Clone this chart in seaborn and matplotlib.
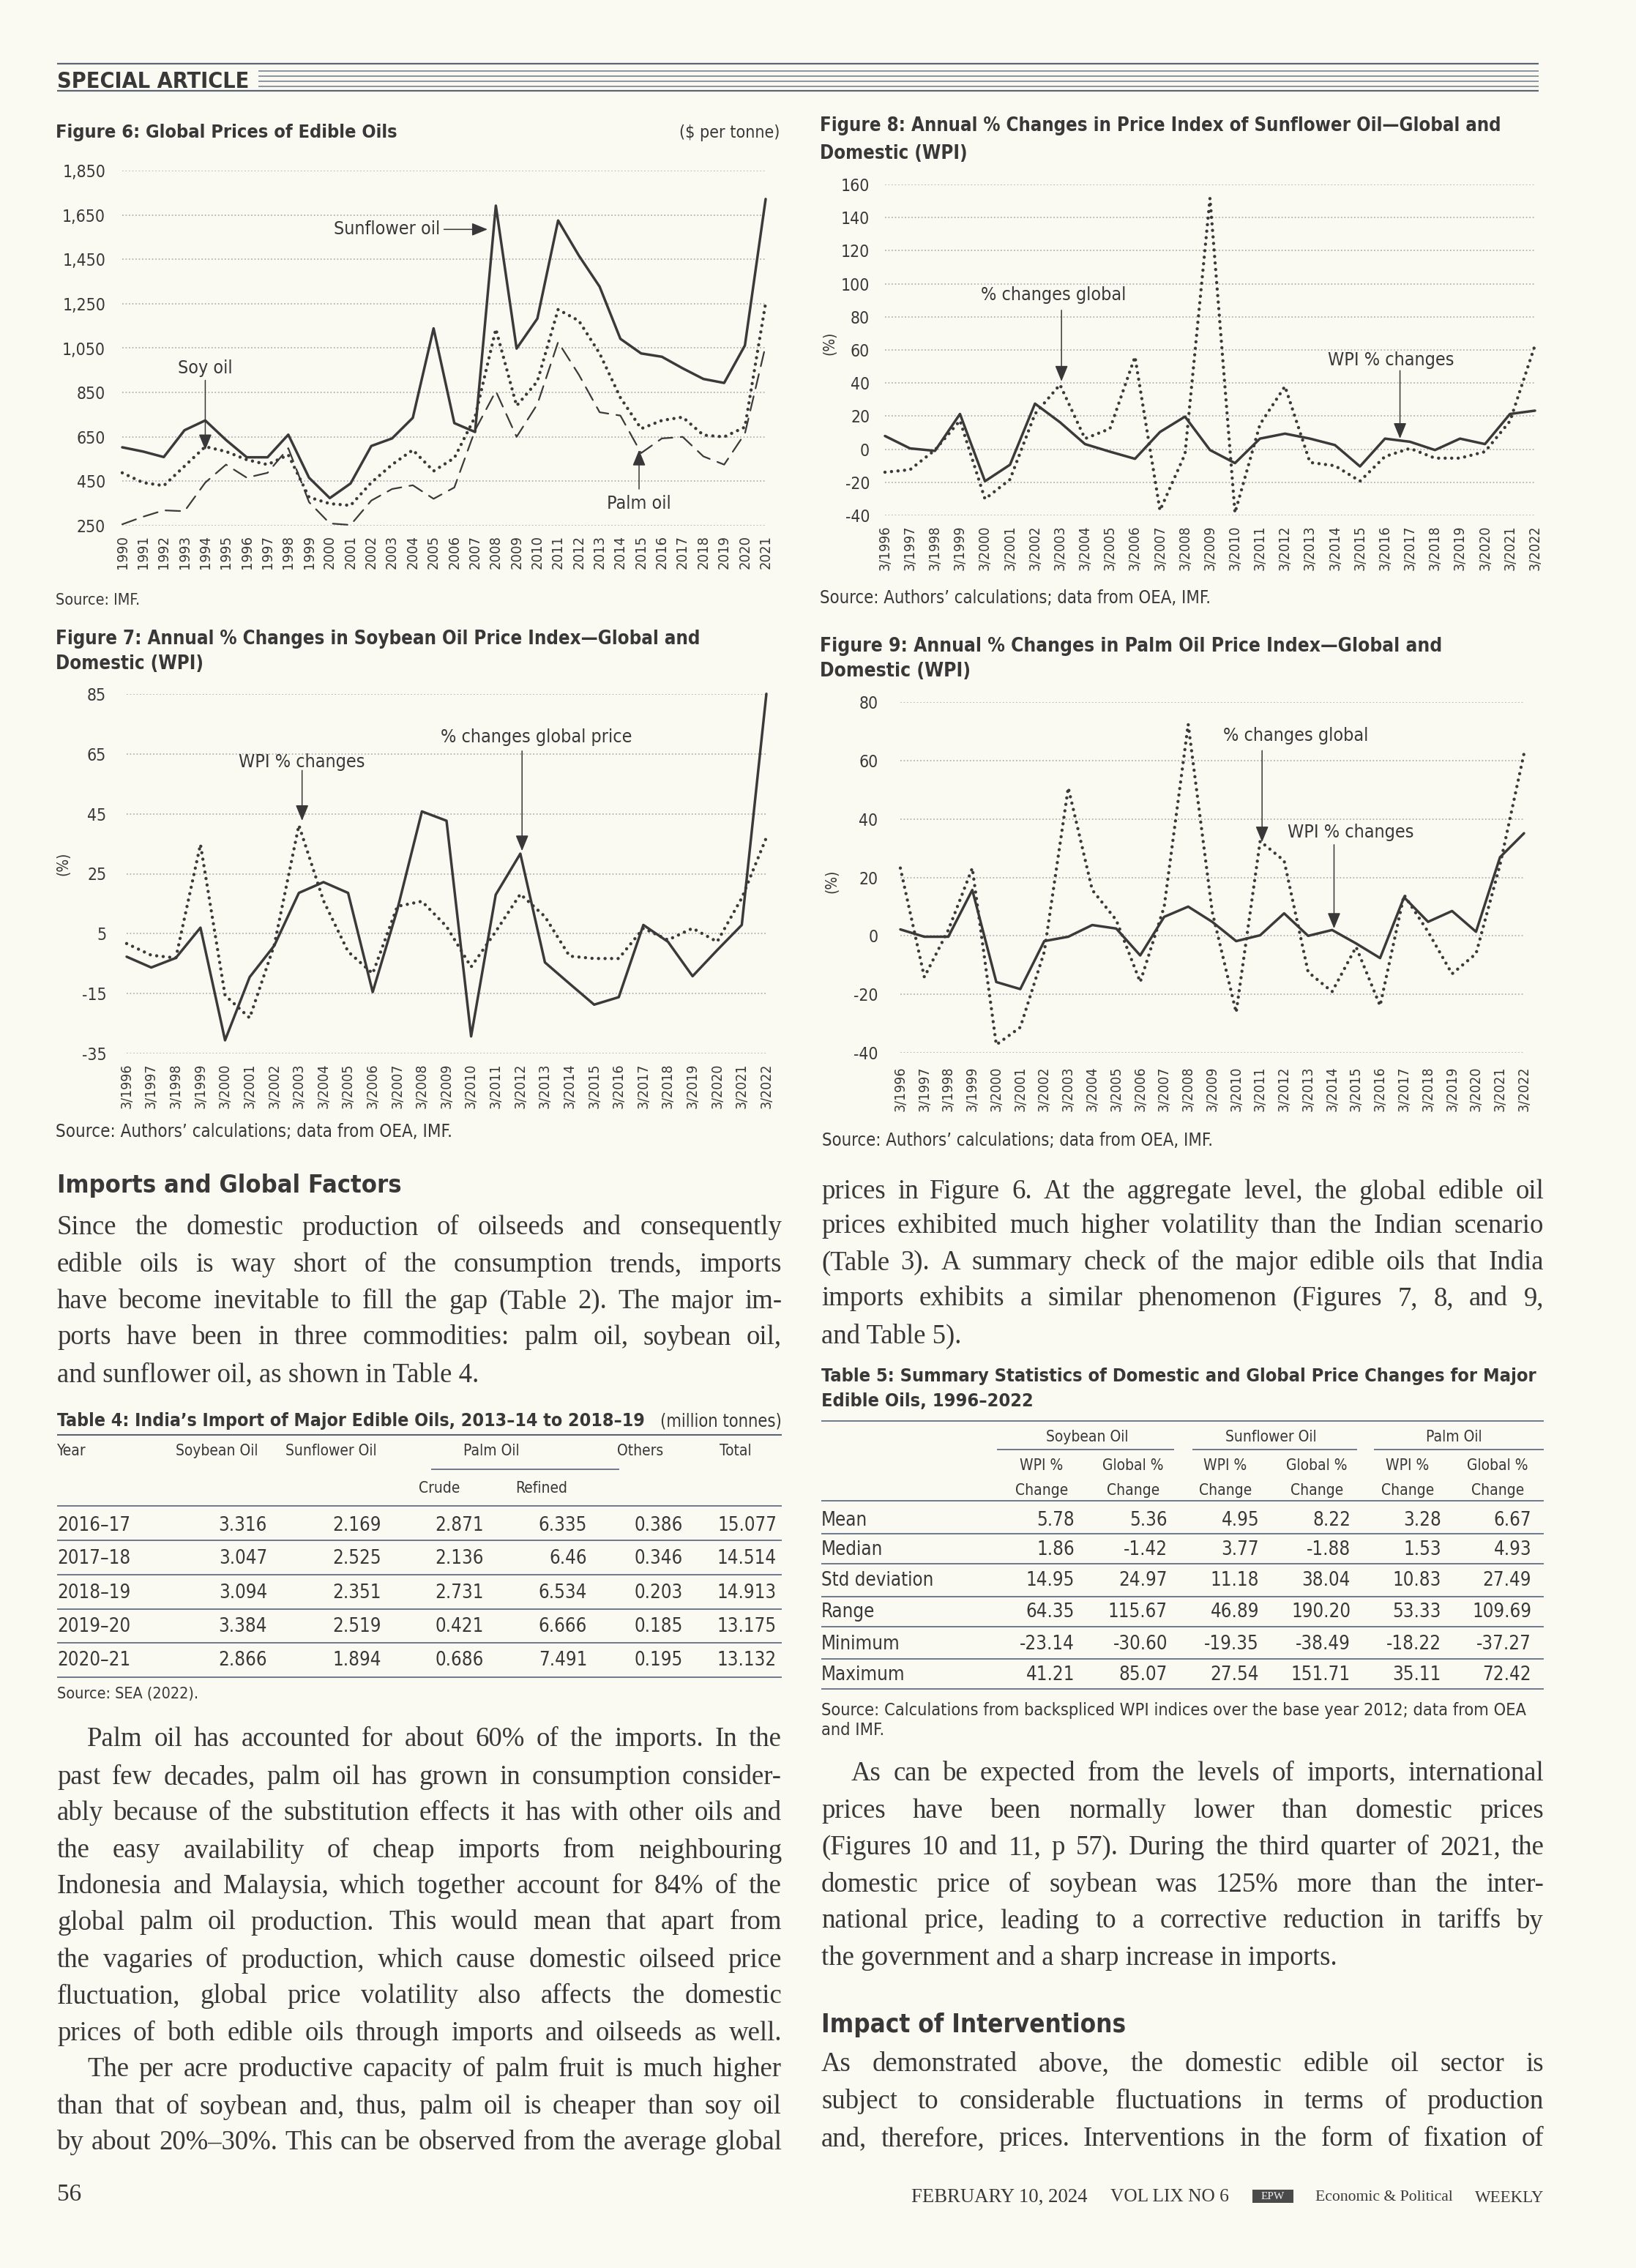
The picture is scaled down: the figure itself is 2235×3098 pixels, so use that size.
import matplotlib
matplotlib.use('Agg')
import matplotlib.pyplot as plt
from matplotlib import font_manager as fm
from matplotlib.patches import Rectangle
import seaborn as sns
import pandas as pd

W, H = 2235, 3098
PAPER = '#fbfaf2'
INK = '#383838'
LINE = '#3a3a3a'
GRID = '#b4b4b4'
RULE = '#56657a'

# ---------------- chart data ----------------
# Figure 6: global prices, $ per tonne
fig6_years = list(range(1990, 2022))
sunflower_price = [603, 584, 559, 680, 724, 636, 558, 558, 660, 466, 374, 440, 609, 643, 736, 1139,
                   712, 672, 1692, 1048, 1183, 1625, 1467, 1327, 1092, 1026, 1011, 959, 911, 893, 1062, 1722]
soy_price = [488, 444, 430, 518, 606, 584, 547, 525, 569, 378, 349, 341, 444, 525, 591, 496,
             555, 740, 1136, 790, 900, 1224, 1173, 1026, 827, 687, 724, 739, 658, 650, 694, 1254]
palm_price = [256, 290, 319, 315, 444, 525, 466, 488, 599, 356, 260, 253, 363, 415, 432, 371,
              422, 680, 856, 650, 797, 1077, 930, 761, 746, 577, 643, 650, 562, 525, 665, 1062]

# Figures 7-9: annual % changes, 3/1996 .. 3/2022
pct_years = list(range(1996, 2023))
pct_labels = ['3/%d' % y for y in pct_years]
soy_global = [-2.7, -6.3, -3.1, 7.0, -30.6, -9.5, 1.0, 18.6, 22.2, 18.6, -14.5, 13.0, 45.8, 42.7,
              -29.3, 18.0, 31.7, -4.6, -11.7, -18.7, -16.2, 7.9, 2.3, -9.2, -0.5, 7.9, 85.07]
soy_wpi = [1.7, -2.2, -3.1, 34.8, -15.6, -23.14, 1.2, 41.21, 16.0, -1.0, -8.3, 14.1, 15.8, 7.4,
           -6.1, 5.7, 18.2, 10.7, -2.5, -3.3, -3.3, 6.8, 2.9, 6.8, 2.3, 16.9, 37.1]
sun_wpi = [8.0, 0.5, -1.0, 21.3, -19.35, -9.4, 27.54, 16.3, 3.1, -1.5, -5.8, 10.4, 19.7, -0.5,
           -8.4, 6.4, 9.4, 6.4, 2.5, -10.4, 6.4, 4.5, -0.5, 6.4, 3.1, 21.3, 23.3]
sun_global = [-13.9, -12.4, -0.5, 17.3, -30.1, -18.3, 21.3, 39.0, 6.4, 12.4, 55.9, -37.0, -3.0, 151.71,
              -38.49, 15.0, 38.0, -8.0, -10.0, -19.3, -4.4, 0.5, -5.4, -5.4, -1.5, 17.0, 62.8]
palm_wpi = [2.2, -0.3, -0.3, 15.7, -15.8, -18.22, -1.8, -0.3, 3.7, 2.5, -6.7, 6.5, 10.0, 4.8,
            -1.8, 0.2, 7.7, 0.0, 2.0, -2.6, -7.6, 13.2, 4.8, 8.5, 1.4, 26.9, 35.11]
palm_global = [23.2, -14.1, 2.0, 23.2, -37.27, -31.3, -5.5, 50.7, 15.7, 5.4, -15.8, 10.0, 72.42, 8.3,
               -26.2, 32.4, 25.7, -12.4, -19.1, -3.8, -23.9, 14.0, 1.4, -13.0, -6.1, 24.3, 62.4]

# ---------------- table data ----------------
t4_years = ['2016–17', '2017–18', '2018–19', '2019–20', '2020–21']
t4_soybean = ['3.316', '3.047', '3.094', '3.384', '2.866']
t4_sunflower = ['2.169', '2.525', '2.351', '2.519', '1.894']
t4_crude = ['2.871', '2.136', '2.731', '0.421', '0.686']
t4_refined = ['6.335', '6.46', '6.534', '6.666', '7.491']
t4_others = ['0.386', '0.346', '0.203', '0.185', '0.195']
t4_total = ['15.077', '14.514', '14.913', '13.175', '13.132']

t5_stats = ['Mean', 'Median', 'Std deviation', 'Range', 'Minimum', 'Maximum']
t5_soy_wpi = ['5.78', '1.86', '14.95', '64.35', '-23.14', '41.21']
t5_soy_glob = ['5.36', '-1.42', '24.97', '115.67', '-30.60', '85.07']
t5_sun_wpi = ['4.95', '3.77', '11.18', '46.89', '-19.35', '27.54']
t5_sun_glob = ['8.22', '-1.88', '38.04', '190.20', '-38.49', '151.71']
t5_palm_wpi = ['3.28', '1.53', '10.83', '53.33', '-18.22', '35.11']
t5_palm_glob = ['6.67', '4.93', '27.49', '109.69', '-37.27', '72.42']

# ---------------- fonts ----------------
ttf = fm.fontManager.ttflist
names = {f.name for f in ttf}
if 'Liberation Sans Narrow' in names:
    SANS, STRETCH = 'Liberation Sans Narrow', 'normal'
elif any(f.name == 'DejaVu Sans' and f.stretch == 'condensed' for f in ttf):
    SANS, STRETCH = 'DejaVu Sans', 'condensed'
else:
    SANS, STRETCH = 'Roboto', 'normal'
SERIF = 'Liberation Serif'
BODY_PT = 26.5

sns.set_theme(style='white', rc={'axes.facecolor': 'none', 'figure.facecolor': PAPER})
plt.rcParams['font.family'] = [SANS, 'DejaVu Sans']
plt.rcParams['font.stretch'] = STRETCH

fig = plt.figure(figsize=(W / 100, H / 100), dpi=100, facecolor=PAPER)
page = fig.add_axes([0, 0, 1, 1])
page.set_xlim(0, W)
page.set_ylim(H, 0)
page.axis('off')
R = fig.canvas.get_renderer()


def txt(x, y, s, size, ha='left', va='center', weight='normal', family=None, color=INK, **kw):
    fam = family or SANS
    st = STRETCH if fam == SANS else 'normal'
    return page.text(x, y, s, fontsize=size, ha=ha, va=va, fontweight=weight,
                     family=[fam, 'DejaVu Sans'], fontstretch=st, color=color, **kw)


def width(t):
    return t.get_window_extent(renderer=R).width


def fit(x0, x1, y, s, size=20, ha='left', **kw):
    t = txt(x0 if ha == 'left' else x1, y, s, size, ha=ha, **kw)
    t.set_fontsize(size * (x1 - x0) / width(t))
    return t


def hline(x0, x1, y, lw=1.2, color=RULE):
    page.plot([x0, x1], [y, y], color=color, lw=lw, solid_capstyle='butt')


def body(x0, x1, lines, ys, indent=41):
    # justified body text: spread the words of each line between x0 and x1
    for (s, just, ind), y in zip(lines, ys):
        xs = x0 + (indent if ind else 0)
        if not just:
            txt(xs, y, s, BODY_PT, family=SERIF)
            continue
        words = s.split()
        ts = [txt(0, y, w, BODY_PT, family=SERIF) for w in words]
        ws = [width(t) for t in ts]
        gap = (x1 - xs - sum(ws)) / (len(words) - 1)
        if gap < 6:
            k = (x1 - xs) / (sum(ws) + 6 * (len(words) - 1))
            for t in ts:
                t.set_fontsize(BODY_PT * k)
            ws = [width(t) for t in ts]
            gap = (x1 - xs - sum(ws)) / (len(words) - 1)
        x = xs
        for t, w in zip(ts, ws):
            t.set_x(x)
            x += w + gap


def chart(x0, x1, ytop, ybot, xlim, ylim):
    ax = fig.add_axes([x0 / W, 1 - ybot / H, (x1 - x0) / W, (ybot - ytop) / H])
    ax.set_xlim(*xlim)
    ax.set_ylim(*ylim)
    ax.set_facecolor('none')
    return ax


def draw_lines(ax, xs, series, dashes, sizes):
    order = list(series.keys())
    df = pd.DataFrame({
        'year': [x for _ in order for x in xs],
        'value': [v for k in order for v in series[k]],
        'series': [k for k in order for _ in xs],
    })
    sns.lineplot(data=df, x='year', y='value', hue='series', style='series', size='series',
                 hue_order=order, style_order=order, size_order=order,
                 palette={k: LINE for k in order}, dashes=dashes, sizes=sizes,
                 estimator=None, errorbar=None, legend=False, ax=ax)
    for ln in ax.lines:
        ln.set_clip_on(False)
        ln.set_dash_capstyle('round')
        ln.set_solid_joinstyle('round')


def style(ax, yticks, ylabels, xticks, xlabels, ypad, xpad, xsize):
    for v in yticks:
        ax.axhline(v, color=GRID, lw=1.3, ls=(0, (1, 1.5)), zorder=0)
    for s in ax.spines.values():
        s.set_visible(False)
    ax.grid(False)
    ax.set_yticks(yticks)
    ax.set_yticklabels(ylabels)
    ax.set_xticks(xticks)
    ax.set_xticklabels(xlabels, rotation=90)
    ax.tick_params(axis='y', length=0, pad=ypad, labelsize=16.5, labelcolor=INK)
    ax.tick_params(axis='x', direction='in', length=5, width=0.8, color='#9a9a9a',
                   pad=xpad, labelsize=xsize, labelcolor=INK)
    ax.set_xlabel('')
    ax.set_ylabel('')


def arrow(ax, tail, head):
    ax.annotate('', xy=head, xytext=tail,
                arrowprops=dict(arrowstyle='-|>,head_length=1.1,head_width=0.45', lw=1.1,
                                color=INK, shrinkA=0, shrinkB=0, mutation_scale=12))


def note(ax, x, y, s, ha='center'):
    ax.text(x, y, s, fontsize=18, ha=ha, va='center', color=INK)


SOLID_LW, DOT_LW, DOTS = 2.5, 3.2, (0.01, 2.0)

# ---------------- masthead ----------------
hline(78, 2102, 87, lw=1.6, color='#5a6578')
hline(78, 2102, 124, lw=1.6, color='#5a6578')
for yy in (97, 104, 111, 118):
    hline(353, 2102, yy, lw=1.1, color='#6d7889')
fit(78, 340, 111, 'SPECIAL ARTICLE', size=20, weight='bold')

# ---------------- Figure 6 ----------------
fit(76, 543, 181, 'Figure 6: Global Prices of Edible Oils', size=20, weight='bold')
fit(927, 1065, 181, '($ per tonne)', size=16, ha='right')
ax6 = chart(167, 1046, 233, 718, (1990, 2021), (250, 1850))
draw_lines(ax6, fig6_years,
           {'Sunflower oil': sunflower_price, 'Soy oil': soy_price, 'Palm oil': palm_price},
           {'Sunflower oil': '', 'Soy oil': DOTS, 'Palm oil': (9, 5)},
           {'Sunflower oil': SOLID_LW, 'Soy oil': DOT_LW, 'Palm oil': 1.6})
y6 = list(range(250, 1851, 200))
style(ax6, y6, ['{:,}'.format(v) for v in y6], fig6_years, [str(y) for y in fig6_years],
      16.5, 9.5, 14.5)
note(ax6, 2005.3, 1585, 'Sunflower oil', ha='right')
arrow(ax6, (2005.5, 1585), (2007.6, 1585))
note(ax6, 1994.0, 959, 'Soy oil')
arrow(ax6, (1994.0, 905), (1994.0, 591))
note(ax6, 2014.9, 349, 'Palm oil')
arrow(ax6, (2014.9, 415), (2014.9, 591))
txt(76, 820, 'Source: IMF.', 15.5)

# ---------------- Figure 8 ----------------
t8 = fit(1120, 2053, 172, 'Figure 8: Annual % Changes in Price Index of Sunflower Oil—Global and',
         size=20, weight='bold')
txt(1120, 210, 'Domestic (WPI)', t8.get_fontsize(), weight='bold')
ax8 = chart(1209, 2097, 252, 704, (1996, 2022), (-40, 160))
draw_lines(ax8, pct_years, {'WPI': sun_wpi, 'Global': sun_global},
           {'WPI': '', 'Global': DOTS}, {'WPI': SOLID_LW, 'Global': DOT_LW})
y8 = list(range(-40, 161, 20))
style(ax8, y8, [str(v) for v in y8], pct_years, pct_labels, 15, 9.5, 14)
note(ax8, 2002.75, 93.4, '% changes global')
arrow(ax8, (2003.06, 84), (2003.06, 41))
note(ax8, 2016.24, 53.9, 'WPI % changes')
arrow(ax8, (2016.6, 47.5), (2016.6, 6.4))
txt(1133, 469, '(%)', 15, ha='center', rotation=90)
fit(1120, 1655, 817, 'Source: Authors’ calculations; data from OEA, IMF.', size=15.5)

# ---------------- Figure 7 ----------------
t7 = fit(76, 958, 873, 'Figure 7: Annual % Changes in Soybean Oil Price Index—Global and',
         size=20, weight='bold')
txt(76, 907, 'Domestic (WPI)', t7.get_fontsize(), weight='bold')
ax7 = chart(173, 1047, 948, 1439, (1996, 2022), (-35, 85))
draw_lines(ax7, pct_years, {'Global': soy_global, 'WPI': soy_wpi},
           {'Global': '', 'WPI': DOTS}, {'Global': SOLID_LW, 'WPI': DOT_LW})
y7 = list(range(-35, 86, 20))
style(ax7, y7, [str(v) for v in y7], pct_years, pct_labels, 20, 9.5, 14)
note(ax7, 2003.13, 62.3, 'WPI % changes')
arrow(ax7, (2003.13, 59.5), (2003.13, 42.7))
note(ax7, 2012.64, 70.7, '% changes global price')
arrow(ax7, (2012.07, 66), (2012.07, 32.6))
txt(86, 1180, '(%)', 15, ha='center', rotation=90)
fit(76, 618, 1546, 'Source: Authors’ calculations; data from OEA, IMF.', size=15.5)

# ---------------- Figure 9 ----------------
t9 = fit(1120, 1969, 883, 'Figure 9: Annual % Changes in Palm Oil Price Index—Global and',
         size=20, weight='bold')
txt(1120, 917, 'Domestic (WPI)', t9.get_fontsize(), weight='bold')
ax9 = chart(1230, 2082, 959, 1438, (1996, 2022), (-40, 80))
draw_lines(ax9, pct_years, {'WPI': palm_wpi, 'Global': palm_global},
           {'WPI': '', 'Global': DOTS}, {'WPI': SOLID_LW, 'Global': DOT_LW})
y9 = list(range(-40, 81, 20))
style(ax9, y9, [str(v) for v in y9], pct_years, pct_labels, 22, 13.5, 14)
note(ax9, 2012.49, 68.5, '% changes global')
arrow(ax9, (2011.08, 63.4), (2011.08, 32.1))
note(ax9, 2014.77, 35.5, 'WPI % changes')
arrow(ax9, (2014.08, 31.2), (2014.08, 2.5))
txt(1136, 1204, '(%)', 15, ha='center', rotation=90)
fit(1123, 1659, 1558, 'Source: Authors’ calculations; data from OEA, IMF.', size=15.5)

# ---------------- left column text ----------------
fit(78, 549, 1619, 'Imports and Global Factors', size=24, weight='bold')
body(78, 1068, [
    ('Since the domestic production of oilseeds and consequently', True, False),
    ('edible oils is way short of the consumption trends, imports', True, False),
    ('have become inevitable to fill the gap (Table 2). The major im-', True, False),
    ('ports have been in three commodities: palm oil, soybean oil,', True, False),
    ('and sunflower oil, as shown in Table 4.', False, False),
], [1677, 1728, 1778, 1827, 1878])

# Table 4
fit(78, 884, 1941, 'Table 4: India’s Import of Major Edible Oils, 2013–14 to 2018–19', size=18, weight='bold')
fit(901, 1068, 1941, '(million tonnes)', size=15, ha='right')
hline(78, 1068, 1960, lw=1.5)
txt(78, 1982, 'Year', 15)
for s, cx in [('Soybean Oil', 296), ('Sunflower Oil', 452), ('Palm Oil', 671), ('Others', 875), ('Total', 1005)]:
    txt(cx, 1982, s, 15, ha='center')
hline(589, 846, 2007)
txt(600, 2033, 'Crude', 15, ha='center')
txt(740, 2033, 'Refined', 15, ha='center')
hline(78, 1068, 2057)
t4_cols = [(t4_soybean, 365), (t4_sunflower, 521), (t4_crude, 661), (t4_refined, 802),
           (t4_others, 933), (t4_total, 1061)]
t4_rows = [2084, 2129, 2176, 2222, 2268]
for i, y in enumerate(t4_rows):
    txt(78, y, t4_years[i], 18.5)
    for col, xr in t4_cols:
        txt(xr, y, col[i], 18.5, ha='right')
for y in (2103.5, 2151, 2198, 2244, 2291):
    hline(78, 1068, y)
txt(78, 2314, 'Source: SEA (2022).', 15.5)

body(78, 1068, [
    ('Palm oil has accounted for about 60% of the imports. In the', True, True),
    ('past few decades, palm oil has grown in consumption consider-', True, False),
    ('ably because of the substitution effects it has with other oils and', True, False),
    ('the easy availability of cheap imports from neighbouring', True, False),
    ('Indonesia and Malaysia, which together account for 84% of the', True, False),
    ('global palm oil production. This would mean that apart from', True, False),
    ('the vagaries of production, which cause domestic oilseed price', True, False),
    ('fluctuation, global price volatility also affects the domestic', True, False),
    ('prices of both edible oils through imports and oilseeds as well.', True, False),
    ('The per acre productive capacity of palm fruit is much higher', True, True),
    ('than that of soybean and, thus, palm oil is cheaper than soy oil', True, False),
    ('by about 20%–30%. This can be observed from the average global', True, False),
], [2376, 2428, 2477, 2528, 2577, 2626, 2678, 2727, 2778, 2827, 2878, 2927])
txt(78, 2998, '56', 24, family=SERIF)

# ---------------- right column text ----------------
body(1122, 2109, [
    ('prices in Figure 6. At the aggregate level, the global edible oil', True, False),
    ('prices exhibited much higher volatility than the Indian scenario', True, False),
    ('(Table 3). A summary check of the major edible oils that India', True, False),
    ('imports exhibits a similar phenomenon (Figures 7, 8, and 9,', True, False),
    ('and Table 5).', False, False),
], [1628, 1675, 1725, 1774, 1825])

# Table 5
t5 = fit(1122, 2099, 1880, 'Table 5: Summary Statistics of Domestic and Global Price Changes for Major',
         size=18, weight='bold')
txt(1122, 1914, 'Edible Oils, 1996–2022', t5.get_fontsize(), weight='bold')
hline(1122, 2109, 1941)
for s, cx, (a, b) in [('Soybean Oil', 1485, (1362, 1604)), ('Sunflower Oil', 1736, (1629, 1854)),
                      ('Palm Oil', 1986, (1877, 2109))]:
    txt(cx, 1963, s, 15, ha='center')
    hline(a, b, 1980)
for i, cx in enumerate([1423, 1548, 1674, 1799, 1923, 2046]):
    txt(cx, 2002, 'WPI %' if i % 2 == 0 else 'Global %', 15, ha='center')
    txt(cx, 2036, 'Change', 15, ha='center')
hline(1122, 2109, 2050)
t5_cols = [(t5_soy_wpi, 1468), (t5_soy_glob, 1595), (t5_sun_wpi, 1720), (t5_sun_glob, 1845),
           (t5_palm_wpi, 1969), (t5_palm_glob, 2092)]
t5_rows = [2077, 2117, 2159, 2202, 2246, 2288]
for i, y in enumerate(t5_rows):
    txt(1122, y, t5_stats[i], 18.5)
    for col, xr in t5_cols:
        txt(xr, y, col[i], 18.5, ha='right')
for y in (2095, 2136, 2181, 2222, 2266, 2307):
    hline(1122, 2109, y)
src5 = fit(1122, 2086, 2336,
           'Source: Calculations from backspliced WPI indices over the base year 2012; data from OEA',
           size=15.5)
txt(1122, 2364, 'and IMF.', src5.get_fontsize())

body(1122, 2109, [
    ('As can be expected from the levels of imports, international', True, True),
    ('prices have been normally lower than domestic prices', True, False),
    ('(Figures 10 and 11, p 57). During the third quarter of 2021, the', True, False),
    ('domestic price of soybean was 125% more than the inter-', True, False),
    ('national price, leading to a corrective reduction in tariffs by', True, False),
    ('the government and a sharp increase in imports.', False, False),
], [2423, 2474, 2524, 2575, 2624, 2675])
fit(1122, 1537, 2766, 'Impact of Interventions', size=24, weight='bold')
body(1122, 2109, [
    ('As demonstrated above, the domestic edible oil sector is', True, False),
    ('subject to considerable fluctuations in terms of production', True, False),
    ('and, therefore, prices. Interventions in the form of fixation of', True, False),
], [2820, 2871, 2922])

# ---------------- footer ----------------
fit(1245, 1486, 3001, 'FEBRUARY 10, 2024', size=15, family=SERIF)
fit(1517, 1680, 3001, 'VOL LIX NO 6', size=15, family=SERIF)
page.add_patch(Rectangle((1711, 2991), 56, 18, facecolor='#4a4a4a', edgecolor='none'))
txt(1739, 3000, 'EPW', 11, ha='center', family=SERIF, color='#f0f0f0')
fit(1797, 1984, 3001, 'Economic & Political', size=17, family=SERIF)
txt(2109, 3002, 'WEEKLY', 16.5, ha='right', family=SERIF)

fig.savefig('out.png', dpi=100, facecolor=PAPER)
